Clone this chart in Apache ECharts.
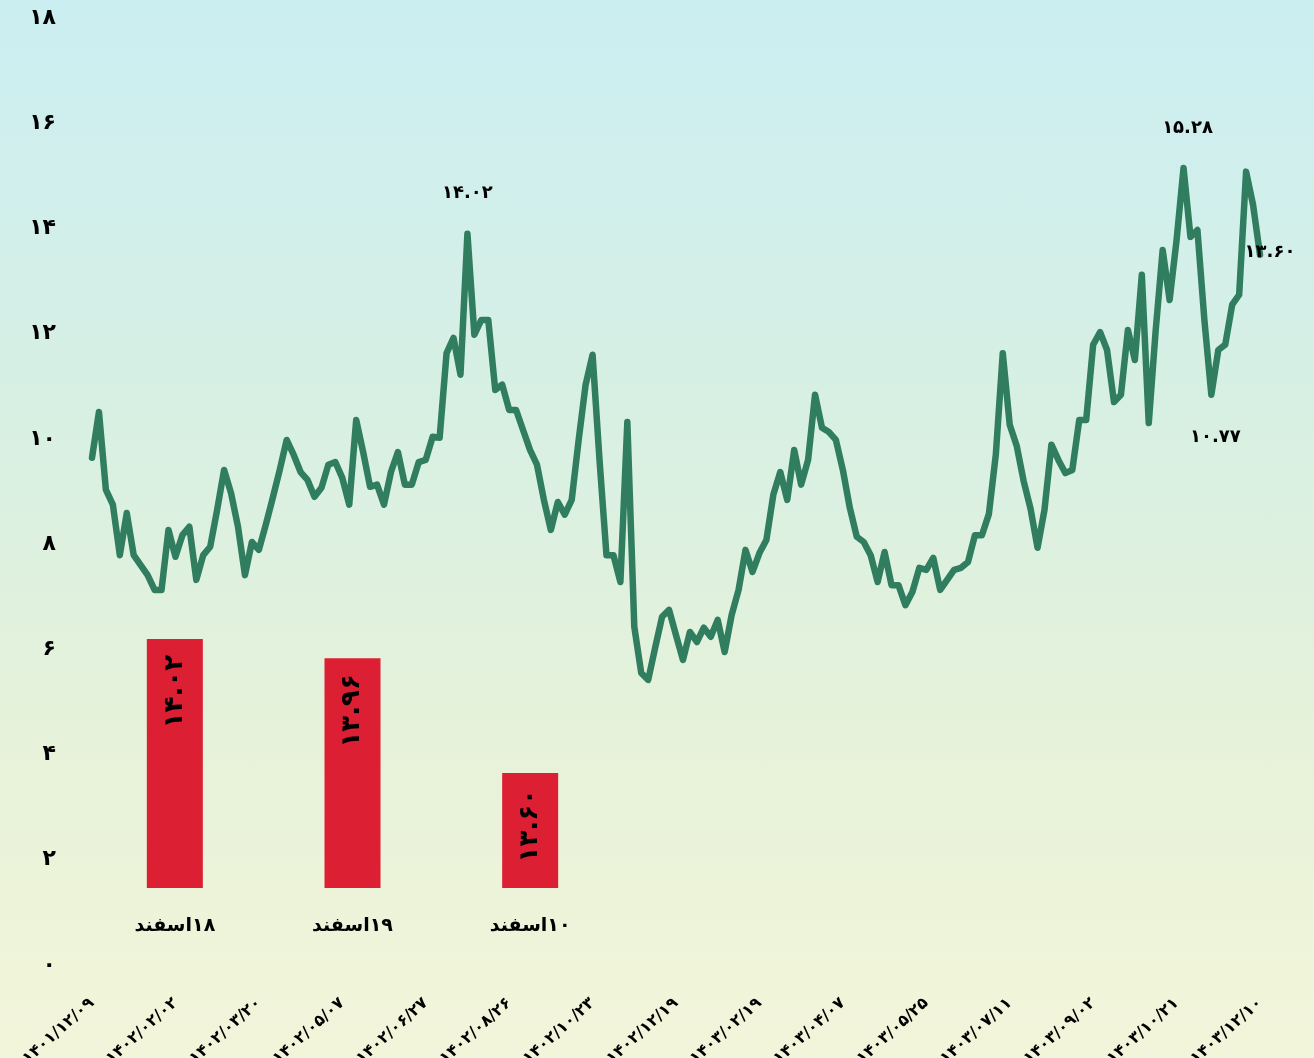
<!DOCTYPE html>
<html><head><meta charset="utf-8">
<script src="https://cdn.jsdelivr.net/npm/echarts@6/dist/echarts.min.js"></script>
<style>
html,body{margin:0;padding:0;}
#c{width:1314px;height:1058px;background:linear-gradient(to bottom,#cbeef2 0%,#d8f0e3 40%,#e6f2d9 70%,#f3f5da 100%);}
</style>
</head><body><div id="c"></div>
<script>
const dateLabels = ['۱۴۰۱/۱۲/۰۹','۱۴۰۲/۰۲/۰۲','۱۴۰۲/۰۳/۲۰','۱۴۰۲/۰۵/۰۷','۱۴۰۲/۰۶/۲۷','۱۴۰۲/۰۸/۲۶','۱۴۰۲/۱۰/۲۳','۱۴۰۲/۱۲/۱۹','۱۴۰۳/۰۲/۱۹','۱۴۰۳/۰۴/۰۷','۱۴۰۳/۰۵/۲۵','۱۴۰۳/۰۷/۱۱','۱۴۰۳/۰۹/۰۲','۱۴۰۳/۱۰/۲۱','۱۴۰۳/۱۲/۱۰'];
const yTickLabels = ['۰','۲','۴','۶','۸','۱۰','۱۲','۱۴','۱۶','۱۸'];
const lineValues = [
9.64,10.51,9.03,8.75,7.79,8.59,7.79,7.60,7.41,7.13,7.13,8.27,
7.76,8.17,8.33,7.32,7.79,7.95,8.65,9.41,8.97,8.33,7.41,8.04,
7.89,8.37,8.88,9.41,9.98,9.70,9.37,9.22,8.90,9.07,9.51,9.56,
9.26,8.75,10.36,9.75,9.09,9.13,8.75,9.37,9.75,9.13,9.13,9.56,
9.60,10.04,10.02,11.63,11.92,11.22,13.90,11.98,12.26,12.26,10.93,11.03,
10.55,10.55,10.17,9.79,9.51,8.84,8.27,8.80,8.56,8.84,9.98,11.03,
11.60,9.60,7.79,7.79,7.28,10.32,6.43,5.55,5.42,6.03,6.62,6.75,
6.27,5.80,6.33,6.14,6.41,6.24,6.56,5.95,6.65,7.13,7.89,7.47,
7.83,8.08,8.94,9.37,8.84,9.79,9.13,9.60,10.84,10.21,10.13,9.98,
9.41,8.69,8.14,8.04,7.79,7.28,7.85,7.22,7.22,6.84,7.09,7.55,
7.51,7.74,7.13,7.32,7.51,7.55,7.66,8.17,8.17,8.57,9.70,11.63,
10.27,9.87,9.20,8.67,7.93,8.65,9.89,9.60,9.35,9.41,10.36,10.36,
11.79,12.03,11.69,10.70,10.84,12.07,11.50,13.12,10.30,12.07,13.59,12.64,
13.78,15.15,13.84,13.97,12.26,10.84,11.69,11.79,12.55,12.74,15.08,14.45,
13.50
];
const annotationIdx = [54, 157, 161, 168];
const annotationText = ['۱۴.۰۲','۱۵.۲۸','۱۰.۷۷','۱۳.۶۰'];
const barCategories = ['۱۸اسفند','۱۹اسفند','۱۰اسفند'];
const barValues = [14.02, 13.96, 13.60];
const barLabels = ['۱۴.۰۲','۱۳.۹۶','۱۳.۶۰'];

const cats = lineValues.map((v, i) => 'p' + i);
const FONT = 'DejaVu Sans';
const annOffsets = [[0,-40],[4,-40],[4,43],[10,-2]];

const chart = echarts.init(document.getElementById('c'), null, {renderer:'canvas'});
chart.setOption({
  animation: false,
  backgroundColor: 'transparent',
  grid: [
    {left: 92, right: 54, top: 18, bottom: 93, containLabel:false, outerBoundsMode:'none'},
    {left: 86, width: 533, top: 639, height: 249, containLabel:false, outerBoundsMode:'none'}
  ],
  xAxis: [
    {type:'category', gridIndex:0, data: cats, boundaryGap:false,
     axisLine:{show:false}, axisTick:{show:false}, splitLine:{show:false},
     axisLabel:{interval:11, rotate:42, margin:36, color:'#000', fontFamily:FONT, fontWeight:'bold', fontSize:16,
       formatter:(v, i) => dateLabels[Math.round(i/12)] || ''}},
    {type:'category', gridIndex:1, data: barCategories,
     axisLine:{show:false}, axisTick:{show:false},
     axisLabel:{margin:29, color:'#000', fontFamily:FONT, fontWeight:'bold', fontSize:19,
       formatter:(v) => '\u200F' + v}}
  ],
  yAxis: [
    {type:'value', gridIndex:0, min:0, max:18, interval:2,
     axisLine:{show:false}, axisTick:{show:false}, splitLine:{show:false},
     axisLabel:{margin:36, color:'#000', fontFamily:FONT, fontWeight:'bold', fontSize:22,
       formatter:(v) => yTickLabels[Math.round(v/2)]}},
    {type:'value', gridIndex:1, min:13.24, max:14.02, show:false}
  ],
  series: [
    {type:'line', xAxisIndex:0, yAxisIndex:0, data: lineValues, symbol:'none',
     lineStyle:{color:'#307d60', width:6.5, join:'round', cap:'round'},
     itemStyle:{color:'#307d60'},
     markPoint:{symbol:'circle', symbolSize:0, silent:true,
       data: annotationIdx.map((ix, k) => ({coord:[cats[ix], lineValues[ix]],
         label:{show:true, position:'inside', formatter: annotationText[k], offset: annOffsets[k],
           color:'#000', fontFamily:FONT, fontWeight:'bold', fontSize:18}}))}
    },
    {type:'bar', xAxisIndex:1, yAxisIndex:1, data: barValues, barWidth:56,
     itemStyle:{color:'#dc1f33'},
     label:{show:true, position:'insideTop', distance:16, rotate:90, align:'right', verticalAlign:'middle',
       color:'#000', fontFamily:FONT, fontWeight:'bold', fontSize:26,
       formatter:(p) => barLabels[p.dataIndex]}}
  ]
});
</script></body></html>
